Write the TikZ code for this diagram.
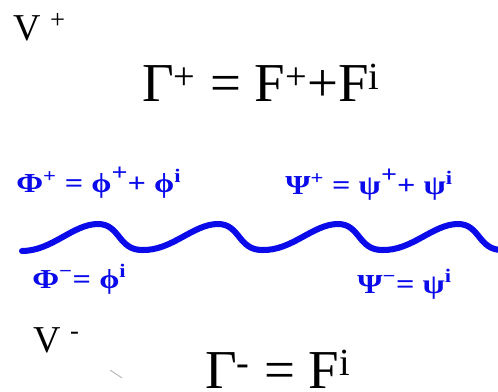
\documentclass[tikz,border=0pt]{standalone}
\usepackage{fontspec}
\setmainfont{Liberation Serif}
\newfontfamily\fieldfont[FakeStretch=1.18]{Liberation Serif}
\usetikzlibrary{positioning}
\definecolor{fieldblue}{RGB}{10,10,235}
\newcommand{\up}[1]{\textsuperscript{#1}}
\newcommand{\hi}[1]{\raisebox{0.45em}{\fontsize{17}{17}\selectfont #1}}

\begin{document}
\begin{tikzpicture}[x=0.025cm, y=-0.025cm,
    lbl/.style={inner sep=0pt, anchor=base west, text depth=0pt},
    big/.style={lbl, font=\fontsize{39}{39}\selectfont},
    side/.style={lbl, font=\fontsize{27}{27}\selectfont},
    field/.style={lbl, text=fieldblue, font=\fieldfont\bfseries\fontsize{19.5}{19.5}\selectfont},
    wave/.style={draw=fieldblue, line width=4.3pt, line cap=round}
]
\useasboundingbox (0,0) rectangle (498,392);

\node[side] (vplus)  at (13,41)  {V \up{+}};
\node[big]  (gplus)  at (142,102) {Γ\up{+} = F\up{+}+F\up{i}};

\node[field] (phiplus) at (16,193)  {Φ\up{+} = ϕ\hi{+}+ ϕ\up{i}};
\node[field] (psiplus) at (285,195) {Ψ\up{+} = ψ\hi{+}+ ψ\up{i}};

\draw[wave] (22,251)
    \foreach \k in {0,...,3}{
      .. controls ({52+120*\k},251) and ({73+120*\k},224) .. ({98+120*\k},224)
      .. controls ({120+120*\k},224) and ({118+120*\k},250) .. ({142+120*\k},250)
    };

\node[field] (phiminus) at (32,288)  {Φ\up{−}= ϕ\up{i}};
\node[field] (psiminus) at (357,293) {Ψ\up{−}= ψ\up{i}};

\node[side] (vminus) at (33,352)  {V \up{-}};
\node[big]  (gminus) at (205,388) {Γ\up{-} = F\up{i}};

\draw[gray!60, line width=0.6pt] (110,370) -- (122,378);
\end{tikzpicture}
\end{document}
